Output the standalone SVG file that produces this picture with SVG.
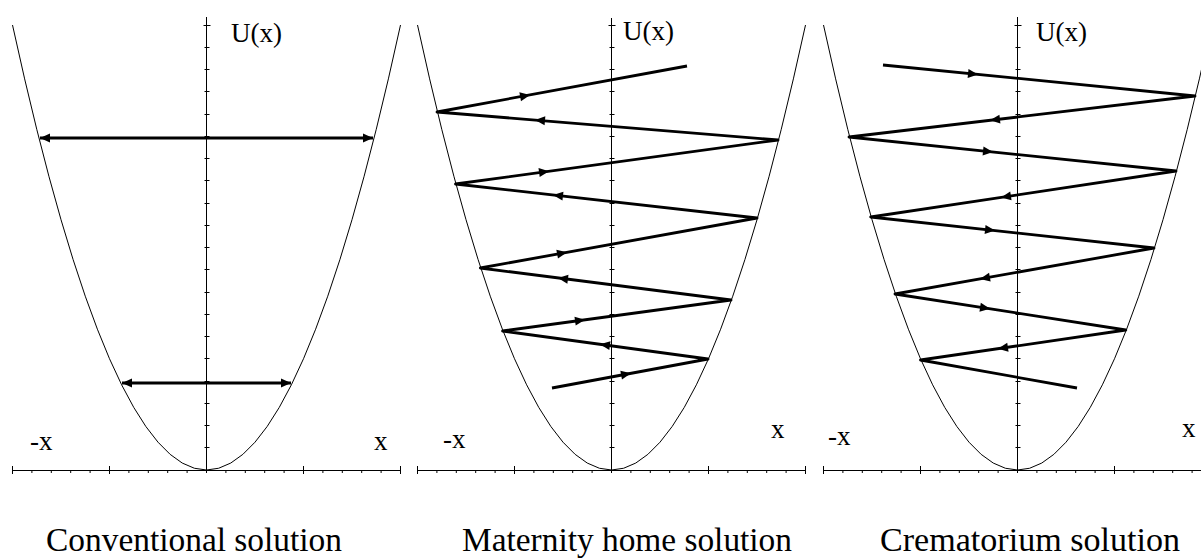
<svg xmlns="http://www.w3.org/2000/svg" xmlns:xlink="http://www.w3.org/1999/xlink" width="1201" height="558" viewBox="0 0 1201 558">
<style>
.ax{stroke:#000;stroke-width:1;fill:none}
.cv{stroke:#000;stroke-width:1;fill:none}
.tr{stroke:#000;stroke-width:2.8;fill:none;stroke-linejoin:round}
.lb{font-family:"Liberation Serif","Times New Roman",serif;font-size:27px;fill:#000}
.cap{font-family:"Liberation Serif","Times New Roman",serif;font-size:33px;fill:#000}
</style>
<defs>
<marker id="ah" viewBox="-11 -6 11 12" refX="0" refY="0" markerWidth="11" markerHeight="12" markerUnits="userSpaceOnUse" orient="auto-start-reverse"><path d="M0,0 L-10,-4.5 L-10,4.5 Z" fill="#000"/></marker>
<path id="hd" d="M0,0 L-10,-4.5 L-10,4.5 Z" fill="#000"/>
<path id="vt" class="ax" d="M-2,447.5h5M-2,425.5h5M-2,403.5h5M-2,381.5h5M-2,358.5h5M-2,336.5h5M-2,314.5h5M-2,292.5h5M-2,269.5h5M-2,247.5h5M-2,225.5h5M-2,203.5h5M-2,180.5h5M-2,158.5h5M-2,136.5h5M-2,114.5h5M-2,91.5h5M-2,69.5h5M-2,47.5h5M-3,25.5h7"/>
<path id="ht" class="ax" d="M0,466v8M19.4,470v3M38.8,470v3M58.2,470v3M77.6,470v3M97,466v8M116.4,470v3M135.8,470v3M155.2,470v3M174.6,470v3M213.4,470v3M232.8,470v3M252.2,470v3M271.6,470v3M291,466v8M310.4,470v3M329.8,470v3M349.2,470v3M368.6,470v3M388,466v8"/>
</defs>
<rect width="1201" height="558" fill="#fff"/>

<g id="panel-conventional">
<path class="ax" d="M12.5,470.5H400.5M206.5,17V473"/>
<use xlink:href="#ht" href="#ht" x="12.5"/>
<use xlink:href="#vt" href="#vt" x="206.5"/>
<path class="cv" d="M12.5,25 Q206.5,915 400.5,25"/>
<text class="lb" x="231" y="42">U(x)</text>
<text class="lb" x="30" y="450">-x</text>
<text class="lb" x="374" y="450">x</text>
</g>

<g id="panel-maternity">
<path class="ax" d="M417.5,470.5H806M611.5,18V473"/>
<use xlink:href="#ht" href="#ht" x="417.5"/>
<use xlink:href="#vt" href="#vt" x="611.5"/>
<path class="cv" d="M417.5,25 Q611.5,915 805.5,25"/>
<text class="lb" x="623" y="40">U(x)</text>
<text class="lb" x="443" y="448">-x</text>
<text class="lb" x="771" y="438">x</text>
</g>

<g id="panel-crematorium">
<path class="ax" d="M823.5,470.5H1201M1017.5,17V473"/>
<use xlink:href="#ht" href="#ht" x="823.5"/>
<use xlink:href="#vt" href="#vt" x="1017.5"/>
<path class="cv" d="M823.5,25 Q1017.5,915 1211.5,25"/>
<text class="lb" x="1036" y="41">U(x)</text>
<text class="lb" x="828" y="445">-x</text>
<text class="lb" x="1182" y="437">x</text>
</g>

<g id="connectors">
<line class="tr" x1="40" y1="138" x2="373" y2="138" marker-start="url(#ah)" marker-end="url(#ah)"/>
<line class="tr" x1="122" y1="383" x2="291" y2="383" marker-start="url(#ah)" marker-end="url(#ah)"/>

<path class="tr" d="M552,388 L708,359 L502.6,331 L731,300 L480.3,268 L757,218 L455.5,184 L778,140 L437,112 L687,66"/>
<use href="#hd" xlink:href="#hd" transform="translate(631,373.3) rotate(-10.53)"/>
<use href="#hd" xlink:href="#hd" transform="translate(600,344.3) rotate(-172.24)"/>
<use href="#hd" xlink:href="#hd" transform="translate(585,319.8) rotate(-7.73)"/>
<use href="#hd" xlink:href="#hd" transform="translate(558,277.9) rotate(-172.73)"/>
<use href="#hd" xlink:href="#hd" transform="translate(567,252.3) rotate(-10.24)"/>
<use href="#hd" xlink:href="#hd" transform="translate(553,195) rotate(-173.57)"/>
<use href="#hd" xlink:href="#hd" transform="translate(549,171.2) rotate(-7.77)"/>
<use href="#hd" xlink:href="#hd" transform="translate(535,120) rotate(-175.3)"/>
<use href="#hd" xlink:href="#hd" transform="translate(530,94.9) rotate(-10.43)"/>

<path class="tr" d="M883,65 L1195,96 L849,137 L1176,171 L870.7,217 L1154,248 L895,294 L1125.8,330 L920.5,360 L1077,388"/>
<use href="#hd" xlink:href="#hd" transform="translate(978,74.4) rotate(5.67)"/>
<use href="#hd" xlink:href="#hd" transform="translate(990,120.3) rotate(173.24)"/>
<use href="#hd" xlink:href="#hd" transform="translate(993,152) rotate(5.94)"/>
<use href="#hd" xlink:href="#hd" transform="translate(1001,197.4) rotate(171.43)"/>
<use href="#hd" xlink:href="#hd" transform="translate(995,230.6) rotate(6.24)"/>
<use href="#hd" xlink:href="#hd" transform="translate(980,278.9) rotate(169.93)"/>
<use href="#hd" xlink:href="#hd" transform="translate(990,308.8) rotate(8.87)"/>
<use href="#hd" xlink:href="#hd" transform="translate(998,348.7) rotate(171.69)"/>
</g>

<g id="captions">
<text class="cap" x="46" y="551" textLength="296" lengthAdjust="spacingAndGlyphs">Conventional solution</text>
<text class="cap" x="462" y="551" textLength="330" lengthAdjust="spacingAndGlyphs">Maternity home solution</text>
<text class="cap" x="880" y="551" textLength="300" lengthAdjust="spacingAndGlyphs">Crematorium solution</text>
</g>
</svg>
